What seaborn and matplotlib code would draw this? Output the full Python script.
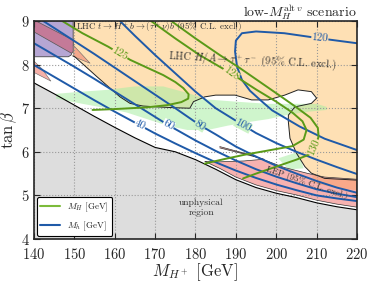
import numpy as np
import matplotlib
matplotlib.use("Agg")
import matplotlib.pyplot as plt
from matplotlib.lines import Line2D
import seaborn as sns

# values (M_H+ in GeV, tan beta)
grey_x = [140, 145, 150, 155, 160, 165, 170, 175, 180, 185, 190, 195, 200, 205, 210, 215, 220]
grey_y = [7.58, 7.33, 7.07, 6.81, 6.56, 6.32, 6.10, 6.00, 5.82, 5.60, 5.36, 5.18, 5.05, 4.95, 4.83, 4.74, 4.67]

# LHC H/A -> tautau excluded region (lower black boundary)
hA_x = [149.6, 150.1, 155.5, 161.3, 163.8, 167, 170.4, 175, 178.6, 179.5, 182.3, 185, 189.8, 193.9,
        198, 202.1, 205.4, 208.7, 210, 208.7, 204.6, 203, 203, 203.4, 205, 207.1, 208.7, 212, 220]
hA_y = [8.20, 8.18, 7.73, 7.26, 7.11, 7.05, 7.03, 7.01, 7.00, 7.15, 7.26, 7.30, 7.30, 7.19,
        7.19, 7.30, 7.42, 7.38, 7.23, 7.11, 7.03, 6.84, 6.69, 6.31, 5.97, 5.66, 5.51, 5.39, 5.35]

# LHC t -> H+ b excluded region
tHb_x = [140, 149.7, 149.7, 149.2, 148.5, 140]
tHb_y = [9.0, 9.0, 8.35, 8.22, 8.18, 8.18]
band_x = [140, 140.5, 149.7, 149.7, 149.3, 140]
band_y = [9.0, 9.0, 8.56, 8.30, 8.26, 8.75]
spike_x = [149.7, 153.9, 149.9]
spike_y = [8.45, 8.03, 8.18]
left_spike_x = [140, 142, 144.2, 140]
left_spike_y = [8.08, 7.90, 7.62, 7.82]

# LEP excluded region
lep_x = [186.0, 194, 202, 208, 212, 220, 220, 215, 210, 205, 200, 195, 190, 186, 182.3,
         186, 192, 197, 192, 186.0]
lep_y = [6.12, 5.92, 5.64, 5.50, 5.42, 5.37, 4.73, 4.80, 4.89, 5.01, 5.11, 5.24, 5.42, 5.62, 5.78,
         5.77, 5.79, 5.83, 5.95, 6.09]
overlap_x = [209, 212, 220, 220, 214, 209]
overlap_y = [5.47, 5.39, 5.35, 5.12, 5.18, 5.30]

# HiggsSignals-favoured band
hs_x = [145.5, 152, 158, 165, 172, 178, 183, 190, 198, 205, 210, 212.5,
        212.5, 208, 203, 198, 193, 188, 183, 178, 173, 168, 163, 158, 152, 145.5]
hs_y = [7.33, 7.38, 7.42, 7.50, 7.50, 7.35, 7.20, 7.15, 7.10, 7.10, 7.10, 7.03,
        6.96, 6.92, 6.85, 6.75, 6.68, 6.60, 6.50, 6.50, 6.60, 6.75, 6.90, 7.00, 7.10, 7.22]
hs2_x = [200.5, 205.5, 206.8, 203]
hs2_y = [5.85, 6.00, 5.62, 5.60]

# M_h contours (blue)
mh40_x = [140, 145, 150, 155, 160, 166, 170, 175, 180, 185, 190, 195, 200, 205, 210, 215, 220]
mh40_y = [7.99, 7.72, 7.45, 7.18, 6.92, 6.62, 6.42, 6.19, 5.97, 5.76, 5.57, 5.40, 5.25, 5.12, 5.00, 4.93, 4.87]
mh60_x = [140, 145, 150, 155, 160, 165, 170, 173.3, 180, 185, 190, 195, 200, 205, 210, 215, 220]
mh60_y = [8.49, 8.22, 7.95, 7.67, 7.38, 7.09, 6.80, 6.61, 6.26, 6.02, 5.80, 5.60, 5.43, 5.28, 5.14, 5.04, 4.96]
mh80_x = [142.3, 145, 150, 155, 160, 165, 170, 175, 181.1, 185, 190, 195, 200, 205, 210, 215, 220]
mh80_y = [9.0, 8.84, 8.54, 8.24, 7.93, 7.62, 7.31, 7.00, 6.61, 6.40, 6.12, 5.89, 5.68, 5.50, 5.33, 5.18, 5.06]
mh100_x = [161.3, 165, 170, 175, 180, 185, 191.8, 195, 200, 205, 210, 215, 220]
mh100_y = [9.0, 8.66, 8.22, 7.80, 7.38, 7.00, 6.61, 6.43, 6.20, 6.00, 5.82, 5.65, 5.49]
mh120_x = [220, 211, 202, 195, 191.5, 190, 189.8, 190.3, 191.5, 193.5, 196.5, 199, 205.8, 212, 220]
mh120_y = [8.49, 8.60, 8.72, 8.76, 8.72, 8.55, 8.30, 7.95, 7.65, 7.40, 7.15, 6.95, 6.58, 6.30, 6.04]

# M_H contours (green)
mH125_x = [147, 152, 158.4, 161.3, 163.8, 168, 172, 175, 177, 178.3, 178.2, 176.5, 173, 168, 160, 154.5]
mH125_y = [9.0, 8.72, 8.41, 8.25, 8.11, 7.93, 7.76, 7.60, 7.46, 7.32, 7.22, 7.14, 7.07, 7.02, 6.98, 6.96]
mH128_x = [169, 175, 181, 188.8, 195, 200, 204, 206.5, 207.5, 206.8, 204, 198, 192, 187, 182.3]
mH128_y = [9.0, 8.60, 8.22, 7.80, 7.43, 7.15, 6.90, 6.70, 6.50, 6.28, 6.13, 6.03, 5.93, 5.83, 5.73]
mH130_x = [174, 180, 186, 191, 196, 201, 205, 208.5, 210.3, 210.5, 209.6, 208, 205, 200, 195, 191.8]
mH130_y = [9.0, 8.60, 8.22, 7.92, 7.60, 7.28, 7.02, 6.78, 6.55, 6.35, 6.10, 5.93, 5.82, 5.66, 5.50, 5.39]

# contour labels: text, x, y, rotation
blue_labels = [("40", 166.3, 6.62, -26), ("60", 173.3, 6.61, -28), ("80", 181.1, 6.61, -32),
               ("100", 191.8, 6.61, -28), ("120", 210.8, 8.60, -5)]
green_labels = [("125", 161.3, 8.25, -30), ("128", 188.8, 7.80, -36), ("130", 209.4, 6.10, 66)]

xticks = [140, 150, 160, 170, 180, 190, 200, 210, 220]
yticks = [4, 5, 6, 7, 8, 9]

sns.set_theme(style="ticks")
plt.rcParams["font.family"] = "serif"
plt.rcParams["font.serif"] = ["cmr10", "DejaVu Serif"]
plt.rcParams["mathtext.fontset"] = "cm"
plt.rcParams["axes.formatter.use_mathtext"] = True
plt.rcParams["axes.unicode_minus"] = False

blue = "#1f5aa8"
green = "#5a9a18"
orange = "#fee0b4"
lgreen = "#a8eea2"
lgreen_bg = "#cdf3c6"

fig = plt.figure(figsize=(3.74, 2.82), dpi=100)
ax = fig.add_axes([0.0909, 0.1525, 0.8636, 0.773])

# filled regions
ax.fill(grey_x + [220, 140], grey_y + [4, 4], color="#dddddd", zorder=1, lw=0)
ax.fill(hA_x + [220, 149.6], hA_y + [9.0, 9.0], color=orange, zorder=1, lw=0)
ax.fill(hs_x, hs_y, color=lgreen, alpha=0.55, zorder=2, lw=0)
ax.fill(hs2_x, hs2_y, color=lgreen, alpha=0.55, zorder=2, lw=0)
ax.fill(lep_x, lep_y, color="#f7b2b0", zorder=2, lw=0)
ax.fill(overlap_x, overlap_y, color="#f8a98a", zorder=2, lw=0)
ax.fill(tHb_x, tHb_y, facecolor="#b6a6d3", edgecolor="#444444", lw=0.6, zorder=2)
ax.fill(band_x, band_y, facecolor="#c47a98", edgecolor="#555555", lw=0.5, zorder=2)
ax.fill(spike_x, spike_y, facecolor="#f4a88c", edgecolor="#666666", lw=0.4, zorder=2)
ax.fill(left_spike_x, left_spike_y, facecolor="#f6b0a8", edgecolor="#666666", lw=0.4, zorder=2)

# boundaries
sns.lineplot(x=grey_x, y=grey_y, sort=False, estimator=None, color="black", lw=0.8, ax=ax, zorder=3)
sns.lineplot(x=hA_x, y=hA_y, sort=False, estimator=None, color="#222222", lw=0.7, ax=ax, zorder=3)
sns.lineplot(x=lep_x, y=lep_y, sort=False, estimator=None, color="#333333", lw=0.5, ax=ax, zorder=3)

for cx, cy in [(mh40_x, mh40_y), (mh60_x, mh60_y), (mh80_x, mh80_y), (mh100_x, mh100_y), (mh120_x, mh120_y)]:
    sns.lineplot(x=cx, y=cy, sort=False, estimator=None, color=blue, lw=1.4, ax=ax, zorder=4)
for cx, cy in [(mH125_x, mH125_y), (mH128_x, mH128_y), (mH130_x, mH130_y)]:
    sns.lineplot(x=cx, y=cy, sort=False, estimator=None, color=green, lw=1.4, ax=ax, zorder=4)

for txt, tx, ty, rot in blue_labels:
    bg = orange if ty > 8 else lgreen_bg if tx > 178 else "white"
    ax.text(tx, ty, txt, color=blue, fontsize=8, rotation=rot, ha="center", va="center", zorder=5,
            bbox=dict(fc=bg, ec="none", pad=0.2))
for txt, tx, ty, rot in green_labels:
    ax.text(tx, ty, txt, color=green, fontsize=8, rotation=rot, ha="center", va="center", zorder=5,
            bbox=dict(fc=orange, ec="none", pad=0.2))

# region annotations
ax.text(150.3, 8.85, r"LHC $t \to H^+b \to (\tau^+\nu)b$ (95% C.L. excl.)", fontsize=6.5,
        ha="left", va="center", color="#333333", zorder=6)
ax.text(173.3, 8.08, r"LHC $H/A \to \tau^+\tau^-$ (95% C.L. excl.)", fontsize=7.5,
        ha="left", va="center", rotation=-3, color="#333333", zorder=6)
ax.text(207.5, 5.30, "LEP (95% C.L. excl.)", fontsize=6.5, ha="center", va="center",
        rotation=-19, color="#333333", zorder=6)
ax.text(181.5, 4.72, "unphysical\nregion", fontsize=7, ha="center", va="center",
        linespacing=1.3, color="#333333", zorder=6)

ax.set_xlim(140, 220)
ax.set_ylim(4, 9)
ax.set_xticks(xticks)
ax.set_yticks(yticks)
ax.grid(True, linestyle=":", color="#999999", lw=0.8, zorder=0)
ax.set_axisbelow(False)
ax.tick_params(direction="in", top=True, right=True, length=4, width=0.8, labelsize=10.5)
ax.tick_params(axis="x", pad=6)
ax.tick_params(axis="y", pad=3)
for s in ax.spines.values():
    s.set_linewidth(1.2)
    s.set_zorder(10)

ax.set_xlabel(r"$M_{H^+}$ [GeV]", fontsize=12, labelpad=-1)
ax.set_ylabel(r"$\tan\beta$", fontsize=12, labelpad=1)
ax.set_title(r"low-$M_H^{\mathrm{alt}\,v}$ scenario", fontsize=10, loc="right", pad=3)

handles = [Line2D([], [], color="#7cbb3a", lw=1.5), Line2D([], [], color=blue, lw=1.5)]
leg = ax.legend(handles, [r"$M_H$ [GeV]", r"$M_h$ [GeV]"], loc="lower left", fontsize=6.5,
                frameon=True, fancybox=True, edgecolor="black", framealpha=1,
                borderaxespad=0.3, handlelength=2.2, labelspacing=0.6)
leg.get_frame().set_linewidth(0.8)
leg.set_zorder(11)

fig.savefig("out.png", dpi=100)
